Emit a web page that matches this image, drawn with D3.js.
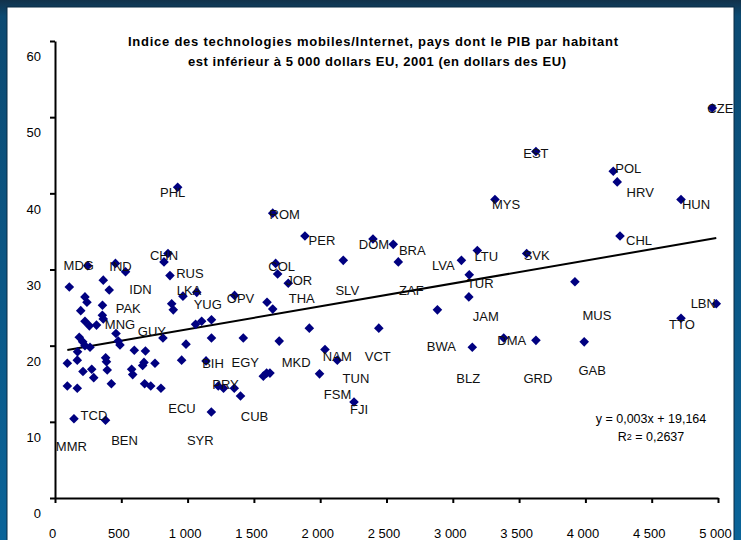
<!DOCTYPE html>
<html>
<head>
<meta charset="utf-8">
<script src="https://cdn.jsdelivr.net/npm/d3@7/dist/d3.min.js"></script>
<style>
  body { margin: 0; background: #fff; }
  svg { display: block; font-family: "Liberation Sans", Arial, sans-serif; }
</style>
</head>
<body>
<svg id="chart"></svg>
<script>
// country codes ("" = point without a label), GDP per capita (USD), index
var codes = [
  "MDG","IND","IDN","","CHN","RUS","LKA","","","PAK",
  "","","","","","","","","","MNG",
  "","","GUY","","","","","","","",
  "","","","","","","","","","",
  "","","","","","","","MMR","","",
  "","","ECU","TCD","BEN","PHL","YUG","","","",
  "","BIH","","PRY","","CUB","SYR","OPV","","THA",
  "EGY","MKD","","","","","FSM","TUN","NAM","FJI",
  "COL","","JOR","ROM","PER","SLV","DOM","BRA","ZAF","VCT",
  "LVA","LTU","TUR","JAM","BWA","BLZ","DMA","GRD","GAB","MUS",
  "SVK","MYS","EST","POL","HRV","HUN","CHL","CZE","LBN","TTO"
];
var gdp = [
  247, 456, 532, 822, 852, 867, 965, 108, 364, 409,
  226, 241, 194, 358, 357, 364, 226, 259, 313, 460,
  880, 892, 814, 183, 209, 226, 264, 170, 477, 490,
  598, 682, 988, 93, 168, 382, 388, 211, 277, 292,
  394, 578, 586, 661, 671, 754, 955, 93, 168, 425,
  676, 722, 799, 143, 381, 925, 1069, 1060, 1106, 1180,
  1180, 1139, 1231, 1271, 1352, 1399, 1179, 1354, 1599, 1642,
  1420, 1691, 1571, 1596, 1621, 1918, 1995, 2036, 2129, 2255,
  1664, 1679, 1759, 1642, 1885, 2174, 2398, 2551, 2589, 2442,
  3065, 3185, 3124, 3121, 2884, 3147, 3384, 3627, 3991, 3921,
  3557, 3318, 3627, 4210, 4240, 4721, 4261, 4957, 4987, 4721
];
var mobileIndex = [
  30.5, 30.8, 29.7, 31.0, 32.1, 29.2, 26.5, 27.7, 28.6, 27.3,
  26.4, 25.7, 24.6, 25.3, 24.0, 23.5, 23.2, 22.6, 22.7, 21.6,
  25.5, 24.7, 21.0, 21.1, 20.5, 20.0, 19.8, 19.2, 20.6, 20.1,
  19.4, 19.3, 20.2, 17.7, 18.1, 18.4, 17.9, 16.6, 16.9, 15.8,
  16.8, 16.9, 16.2, 17.4, 17.8, 17.7, 18.1, 14.7, 14.4, 15.0,
  15.0, 14.7, 14.4, 10.4, 10.2, 40.8, 27.0, 22.8, 23.2, 23.4,
  21.0, 18.0, 14.7, 14.4, 14.4, 13.4, 11.3, 26.6, 25.7, 24.8,
  21.0, 20.6, 16.0, 16.4, 16.4, 22.3, 16.3, 19.5, 18.1, 12.6,
  30.8, 29.4, 28.2, 37.4, 34.4, 31.2, 34.0, 33.3, 31.0, 22.3,
  31.2, 32.5, 29.3, 26.4, 24.7, 19.8, 21.0, 20.7, 20.5, 28.4,
  32.1, 39.2, 45.5, 42.9, 41.5, 39.2, 34.4, 51.2, 25.5, 23.6
];
var xTicks = [0, 500, 1000, 1500, 2000, 2500, 3000, 3500, 4000, 4500, 5000];
var yTicks = [0, 10, 20, 30, 40, 50, 60];
var titleLines = [
  "Indice des technologies mobiles/Internet, pays dont le PIB par habitant",
  "est inférieur à 5 000 dollars EU, 2001 (en dollars des EU)"
];
var slope = 0.003, intercept = 19.164;
var equationText = "y = 0,003x + 19,164";
var r2Value = "0,2637";

// where each data label sits relative to its marker, in pixels
var labelShift = {
  MDG:[-9,0], IND:[5,3], IDN:[15,18], CHN:[-4,2], RUS:[20,-2], LKA:[6,-6],
  PAK:[19,18], MNG:[4,-9], GUY:[-11,-7], ECU:[21,20], TCD:[20,-3], BEN:[19,20],
  MMR:[4,60], PHL:[-5,5], YUG:[11,12], BIH:[7,2], PRY:[2,-4], CUB:[14,20],
  SYR:[-11,28], OPV:[6,3], THA:[29,-11], EGY:[2,24], MKD:[17,21], FSM:[18,20],
  TUN:[31,29], NAM:[0,-4], FJI:[5,7], COL:[6,3], JOR:[11,-3], ROM:[12,1],
  PER:[17,4], SLV:[4,30], DOM:[1,5], BRA:[19,6], ZAF:[13,28], VCT:[-1,28],
  LVA:[-18,5], LTU:[9,6], TUR:[11,8], JAM:[17,19], BWA:[4,36], BLZ:[-4,31],
  DMA:[8,2], GRD:[2,38], GAB:[8,28], MUS:[22,34], SVK:[10,2], MYS:[11,5],
  EST:[0,2], POL:[15,-3], HRV:[23,10], HUN:[15,5], CHL:[19,4], CZE:[8,0],
  LBN:[-13,0], TTO:[1,6]
};

var width = 741, height = 540;
var svg = d3.select("#chart")
  .attr("width", width)
  .attr("height", height);

var points = gdp.map(function(d, i) {
  return {code: codes[i], x: d, y: mobileIndex[i]};
});

// frame
var grad = svg.append("defs").append("linearGradient")
  .attr("id", "frame").attr("x1", 0).attr("y1", 0).attr("x2", 0).attr("y2", 1);
grad.append("stop").attr("offset", "0%").attr("stop-color", "#12324a");
grad.append("stop").attr("offset", "3%").attr("stop-color", "#0c4a72");
grad.append("stop").attr("offset", "100%").attr("stop-color", "#0a6499");
svg.append("rect").attr("width", width).attr("height", height).attr("fill", "url(#frame)");
svg.append("rect")
  .attr("x", 7).attr("y", 7).attr("width", 727).attr("height", height)
  .attr("fill", "#fff").attr("stroke", "#0b2b42").attr("stroke-width", 1);

var x = d3.scaleLinear().domain([0, 5000]).range([55, 718]);
var y = d3.scaleLinear().domain([0, 60]).range([498, 41]);
var fr = d3.formatLocale({decimal: ",", thousands: " ", grouping: [3], currency: ["", ""]});
var fmt = fr.format(",");

// axes
var xAxis = svg.append("g")
  .attr("class", "axis")
  .attr("transform", "translate(0," + y(0) + ")")
  .call(d3.axisBottom(x).tickValues(xTicks).tickSize(5).tickSizeOuter(0).tickFormat(fmt));
var yAxis = svg.append("g")
  .attr("class", "axis")
  .attr("transform", "translate(" + x(0) + ",0)")
  .call(d3.axisLeft(y).tickValues(yTicks).tickSize(5).tickSizeOuter(0));
svg.selectAll(".axis path, .axis line")
  .style("stroke", "#000")
  .style("stroke-width", "2px")
  .style("fill", "none");
svg.selectAll(".axis text")
  .style("fill", "#000")
  .style("font-size", "13px")
  .style("font-family", "'Liberation Sans', Arial, sans-serif");
xAxis.selectAll(".tick text").attr("y", 35.5).attr("dy", "0.36em").attr("dx", -3);
yAxis.selectAll(".tick text").attr("x", -14).attr("dy", "0.36em")
  .attr("transform", "translate(0,15)");

// trend line
var xr = d3.extent(gdp);
svg.append("line")
  .attr("x1", x(xr[0])).attr("y1", y(slope * xr[0] + intercept))
  .attr("x2", x(xr[1])).attr("y2", y(slope * xr[1] + intercept))
  .attr("stroke", "#000").attr("stroke-width", 2);

// markers
svg.selectAll("path.pt")
  .data(points)
  .enter()
  .append("path")
  .attr("class", "pt")
  .attr("d", "M0,-4.8L4.8,0L0,4.8L-4.8,0Z")
  .attr("transform", function(d) { return "translate(" + x(d.x) + "," + y(d.y) + ")"; })
  .attr("fill", "#000080");

// data labels
svg.selectAll("text.lbl")
  .data(points.filter(function(d) { return d.code !== ""; }))
  .enter()
  .append("text")
  .attr("class", "lbl")
  .attr("x", function(d) { return x(d.x) + labelShift[d.code][0]; })
  .attr("y", function(d) { return y(d.y) + labelShift[d.code][1]; })
  .attr("dy", "0.36em")
  .attr("text-anchor", "middle")
  .style("font-size", "13px")
  .attr("fill", "#111")
  .text(function(d) { return d.code; });

// title
var titleWidths = [490, 378];
svg.selectAll("text.title")
  .data(titleLines)
  .enter()
  .append("text")
  .attr("class", "title")
  .attr("x", function(d, i) { return i === 0 ? 373 : 377; })
  .attr("y", function(d, i) { return 41 + i * 20; })
  .attr("dy", "0.36em")
  .attr("text-anchor", "middle")
  .attr("textLength", function(d, i) { return titleWidths[i]; })
  .attr("lengthAdjust", "spacing")
  .style("font-size", "13px")
  .style("font-weight", "bold")
  .attr("fill", "#000")
  .text(function(d) { return d; });

// regression equation
svg.append("text")
  .attr("x", 651).attr("y", 418).attr("dy", "0.36em")
  .attr("text-anchor", "middle")
  .style("font-size", "12.5px")
  .text(equationText);
var r2 = svg.append("text")
  .attr("x", 651).attr("y", 436).attr("dy", "0.36em")
  .attr("text-anchor", "middle")
  .style("font-size", "12.5px");
r2.append("tspan").text("R");
r2.append("tspan").attr("dy", "-0.1em").style("font-size", "9px").text("2");
r2.append("tspan").attr("dy", "0.1em").text(" = " + r2Value);
</script>
</body>
</html>
